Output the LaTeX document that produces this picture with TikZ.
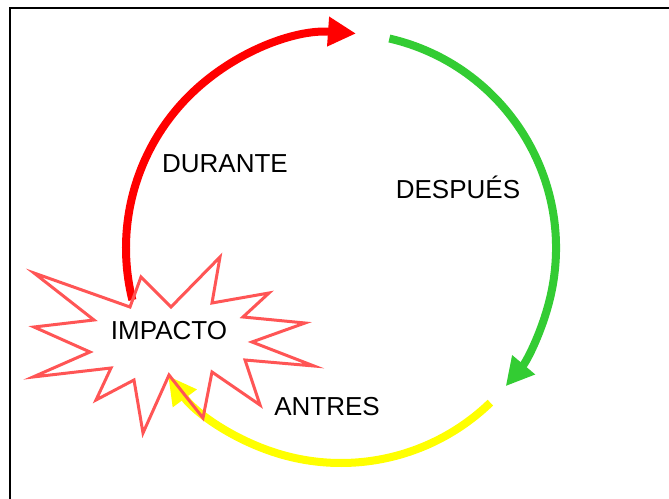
\documentclass[tikz,border=0pt]{standalone}
\usepackage{fontspec}
\setmainfont{Liberation Sans}
\usepackage{tikz}
\usetikzlibrary{arrows.meta}
\definecolor{arcred}{RGB}{255,0,0}
\definecolor{arcgreen}{RGB}{51,204,51}
\definecolor{arcyellow}{RGB}{255,255,0}
\definecolor{starred}{RGB}{255,85,85}
\begin{document}
\begin{tikzpicture}[x=1pt, y=1pt,
	phase/.style={line width=8pt, -{Triangle[length=28pt, width=28pt]}},
	label/.style={anchor=base, font=\fontsize{26}{30}\selectfont},
	impact/.style={starred, line width=3pt, line join=miter}]
	\useasboundingbox (0,0) rectangle (669,498);
	\draw[line width=2.5pt] (10,-20) -- (10,490) -- (700,490);
	\coordinate (c) at (341,250);
	% the three phases
	\draw[phase, arcred] ([shift={(194:215)}]c) arc (194:86:215);
	\draw[phase, arcgreen] ([shift={(77:215)}]c) arc (77:-40:215);
	\draw[phase, arcyellow] ([shift={(-46:215)}]c) arc (-46:-143.5:215);
	% the impact star
	\draw[impact] (34,225) -- (130,191) -- (141,221) -- (171,191) -- (220,241)
		-- (212,195) -- (269,205) -- (243,181) -- (305,175) -- (252,156)
		-- (314,132) -- (245,138) -- (260,93) -- (212,126) -- (203,80)
		-- (169,123) -- (143,65) -- (134,118) -- (96,98) -- (111,130)
		-- (33,121) -- (90,146) -- (34,171) -- (94,178) -- cycle;
	\node[label] (durante) at (225,325) {DURANTE};
	\node[label] (despues) at (458,299) {DESPUÉS};
	\node[label] (impacto) at (169,158) {IMPACTO};
	\node[label] (antres) at (327,82) {ANTRES};
\end{tikzpicture}
\end{document}
